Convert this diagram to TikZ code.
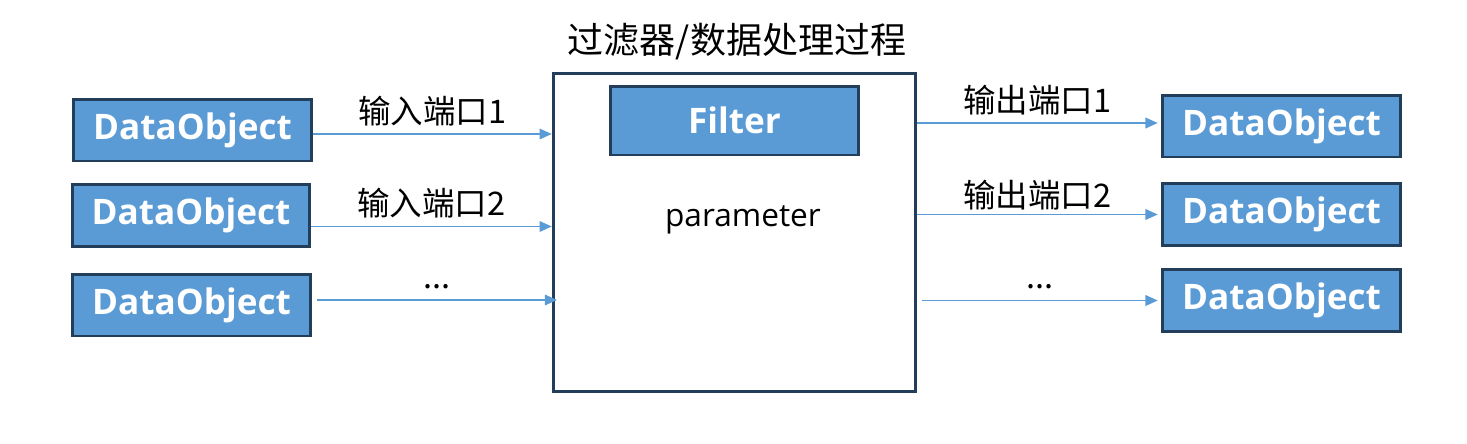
\documentclass[tikz,border=0pt]{standalone}
\usepackage{fontspec}
\setmainfont{Open Sans}
\newfontfamily\cjk{Noto Sans CJK SC}
\usetikzlibrary{arrows.meta,positioning}
\definecolor{boxblue}{RGB}{91,155,213}
\definecolor{boxedge}{RGB}{35,62,90}

\begin{document}
\begin{tikzpicture}[x=0.02cm, y=-0.02cm,
    dobj/.style={draw=boxedge, line width=1.7pt, fill=boxblue, text=white, minimum width=4.75cm, minimum height=1.24cm, font=\fontsize{20}{22}\selectfont\bfseries},
    flow/.style={-{Triangle[length=7pt,width=6pt]}, draw=boxblue, line width=1.1pt},
    port/.style={font=\cjk\fontsize{18.5}{20}\selectfont, inner sep=1pt}]
    \useasboundingbox (0,0) rectangle (1467,443);

    \node[draw=boxedge, line width=1.7pt, minimum width=7.25cm, minimum height=6.38cm] (proc) at (734.5,232.5) {};
    \node[font=\cjk\fontsize{20.5}{22}\selectfont] (title) at (737,42) {过滤器/数据处理过程};
    \node[dobj, minimum width=4.97cm, minimum height=1.38cm] (filt) at (734.5,120.5) {Filter};
    \node[font=\fontsize{18}{20}\selectfont] (param) at (743,220) {parameter};

    \node[dobj] (inA) at (192.5,130) {DataObject};
    \node[dobj] (inB) at (191,215.5) {DataObject};
    \node[dobj] (inC) at (191.5,305) {DataObject};

    \node[dobj] (outA) at (1281.5,126) {DataObject};
    \node[dobj] (outB) at (1281.5,214.5) {DataObject};
    \node[dobj] (outC) at (1281.5,300.5) {DataObject};

    \draw[flow] ([yshift=-0.08cm]inA.east) -- node[port, above=3pt] {输入端口1} ([yshift=-0.08cm]inA.east -| proc.west);
    \draw[flow] ([yshift=-0.22cm]inB.east) -- node[port, above=3pt] {输入端口2} ([yshift=-0.22cm]inB.east -| proc.west);
    \draw[flow] ([yshift=0.1cm,xshift=3pt]inC.east) -- node[port, above=5pt] {...} ([yshift=0.1cm,xshift=3pt]inC.east -| proc.west);

    \draw[flow] ([yshift=0.06cm]outA.west -| proc.east) -- node[port, above=3pt] {输出端口1} ([yshift=0.06cm,xshift=-2pt]outA.west);
    \draw[flow] (outB.west -| proc.east) -- node[port, above=1pt] {输出端口2} ([xshift=-2pt]outB.west);
    \draw[flow] ([xshift=3pt]outC.west -| proc.east) -- node[port, above=5pt] {...} ([xshift=-2pt]outC.west);
\end{tikzpicture}
\end{document}
